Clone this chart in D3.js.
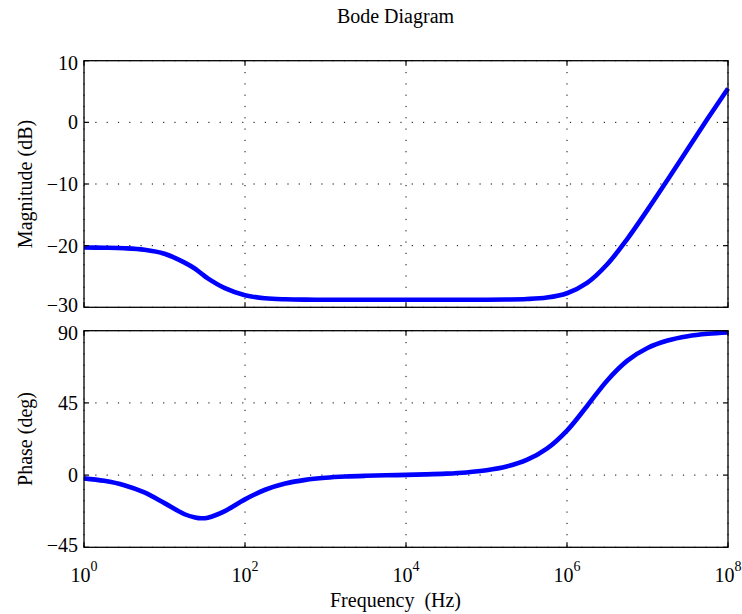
<!DOCTYPE html>
<html><head><meta charset="utf-8">
<script src="https://cdn.jsdelivr.net/npm/d3@7"></script>
<style>
body{margin:0;background:#fff}
svg{display:block}
text{font-family:"Liberation Serif","Times New Roman",serif;fill:#000}
</style>
</head><body><svg id="c" width="742" height="614"></svg>
<script>
// Frequency samples (Hz), roughly quarter-decade spacing
const freqs = [1, 1.778, 3.162, 5.623, 10, 17.78, 24.0, 28.84, 34.5, 56.23, 100, 177.8, 316.2, 562.3,
  1000, 1778, 3162, 5623, 10000, 17783, 31623, 56234, 100000, 177828, 316228, 562341,
  1000000, 1778279, 3162278, 5623413, 10000000, 17782794, 31622777, 56234133, 100000000];
// Magnitude (dB)
const magDb = [-20.31, -20.34, -20.42, -20.66, -21.31, -22.75, -23.75, -24.54, -25.30, -26.89, -28.05, -28.53, -28.70, -28.76,
  -28.77, -28.78, -28.78, -28.78, -28.78, -28.78, -28.78, -28.77, -28.77, -28.74, -28.66, -28.42,
  -27.72, -26.05, -23.02, -18.89, -14.20, -9.31, -4.34, 0.65, 5.50];
// Phase (deg)
const phaseDeg = [-2.02, -3.57, -6.28, -10.80, -17.46, -24.40, -26.40, -26.93, -26.55, -22.42, -15.13, -9.13, -5.24, -2.96,
  -1.65, -0.89, -0.44, -0.13, 0.13, 0.44, 0.90, 1.67, 3.00, 5.34, 9.44, 16.49,
  27.76, 43.10, 59.00, 71.33, 79.24, 83.90, 86.56, 88.06, 88.91];

const xTicks = [1, 1e2, 1e4, 1e6, 1e8];
const xTickExp = ["0", "2", "4", "6", "8"];
const magTicks = [-30, -20, -10, 0, 10];
const phaseTicks = [-45, 0, 45, 90];

const titleText = "Bode Diagram";
const xLabelText = "Frequency  (Hz)";
const magLabelText = "Magnitude (dB)";
const phaseLabelText = "Phase (deg)";

const svg = d3.select("#c");
const L = 84, R = 728;
const x = d3.scaleLog().domain([1, 1e8]).range([L, R]);

const panels = [
  {y: d3.scaleLinear().domain([-30, 10]).range([307.3, 60.7]), ticks: magTicks, vals: magDb, label: magLabelText},
  {y: d3.scaleLinear().domain([-45, 90]).range([547.3, 330.7]), ticks: phaseTicks, vals: phaseDeg, label: phaseLabelText}
];

const fmt = v => (v < 0 ? "\u2212" + Math.abs(v) : String(v));
const TL = 5;

panels.forEach(p => {
  const y = p.y;
  const [y0, y1] = y.range(); // bottom, top
  const g = svg.append("g");
  // grid
  g.selectAll(".hg").data(p.ticks).enter().append("line")
    .attr("x1", L).attr("x2", R).attr("y1", d => y(d)).attr("y2", d => y(d))
    .attr("stroke", "#000").attr("stroke-width", 1).attr("stroke-dasharray", "1.2,10.1");
  g.selectAll(".vg").data(xTicks).enter().append("line")
    .attr("x1", d => x(d)).attr("x2", d => x(d)).attr("y1", y1).attr("y2", y0)
    .attr("stroke", "#000").attr("stroke-width", 1).attr("stroke-dasharray", "1.2,10.1");
  // curve
  const line = d3.line().x((d, i) => x(freqs[i])).y(d => y(d)).curve(d3.curveCatmullRom.alpha(0.5));
  g.append("path").attr("d", line(p.vals)).attr("fill", "none")
    .attr("stroke", "#0000ff").attr("stroke-width", 4.6).attr("stroke-linejoin", "round").attr("stroke-linecap", "butt");
  // frame
  g.append("rect").attr("x", L).attr("y", y1).attr("width", R - L).attr("height", y0 - y1)
    .attr("fill", "none").attr("stroke", "#000").attr("stroke-width", 1.3);
  // y ticks (inward, left and right)
  p.ticks.forEach(t => {
    g.append("line").attr("x1", L).attr("x2", L + TL).attr("y1", y(t)).attr("y2", y(t)).attr("stroke", "#000").attr("stroke-width", 1.2);
    g.append("line").attr("x1", R).attr("x2", R - TL).attr("y1", y(t)).attr("y2", y(t)).attr("stroke", "#000").attr("stroke-width", 1.2);
    const dom = y.domain();
    const off = t === dom[1] ? 9 : (t === dom[0] ? 5 : 7);
    g.append("text").attr("x", 78).attr("y", y(t) + off).attr("text-anchor", "end")
      .attr("font-size", 20).text(fmt(t));
  });
  // x ticks (inward, bottom and top)
  xTicks.forEach(t => {
    g.append("line").attr("x1", x(t)).attr("x2", x(t)).attr("y1", y0).attr("y2", y0 - TL).attr("stroke", "#000").attr("stroke-width", 1.2);
    g.append("line").attr("x1", x(t)).attr("x2", x(t)).attr("y1", y1).attr("y2", y1 + TL).attr("stroke", "#000").attr("stroke-width", 1.2);
  });
  // y label
  const cy = (y0 + y1) / 2;
  g.append("text").attr("transform", `translate(32,${cy}) rotate(-90)`)
    .attr("text-anchor", "middle").attr("font-size", 20).text(p.label);
});

// x tick labels
const yb = panels[1].y.range()[0];
xTicks.forEach((t, i) => {
  const tx = svg.append("text").attr("x", x(t)).attr("y", yb + 34.5).attr("text-anchor", "middle").attr("font-size", 20);
  tx.append("tspan").text("10");
  tx.append("tspan").attr("dy", -11).attr("font-size", 14).text(xTickExp[i]);
});

// x label
svg.append("text").attr("x", 395.5).attr("y", 607).attr("text-anchor", "middle")
  .attr("font-size", 20).style("white-space", "pre").attr("xml:space", "preserve").text(xLabelText);
// title
svg.append("text").attr("x", 395.5).attr("y", 22.5).attr("text-anchor", "middle")
  .attr("font-size", 20).text(titleText);
</script>
</body></html>
